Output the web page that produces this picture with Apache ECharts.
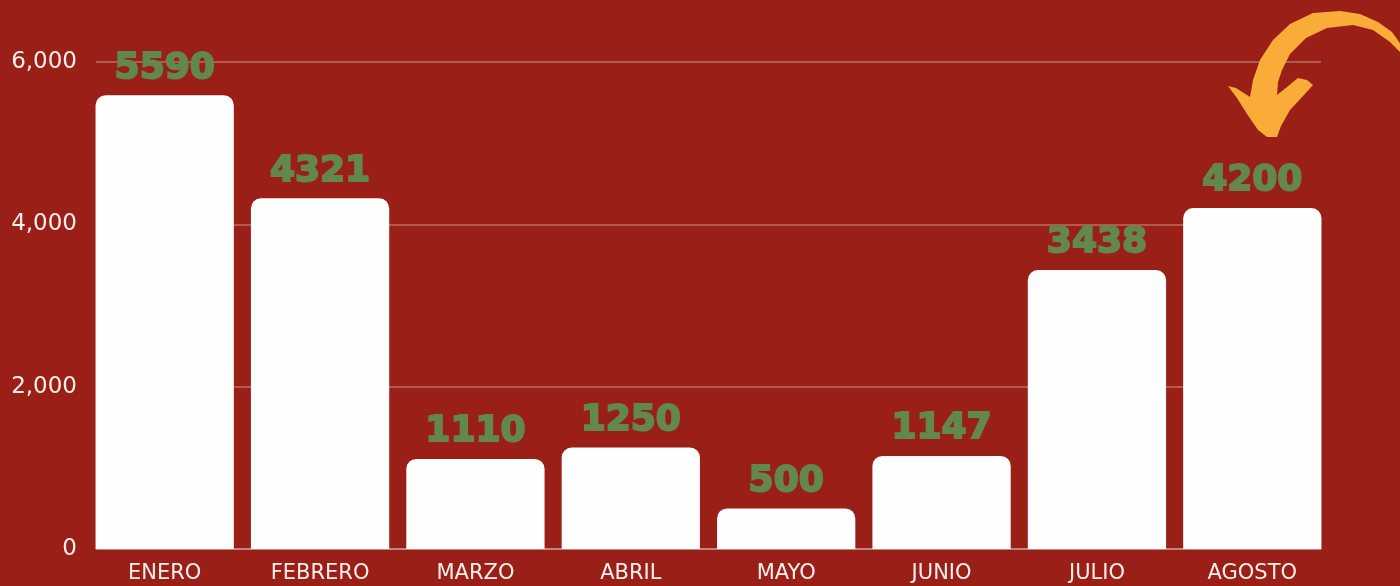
<!DOCTYPE html>
<html>
<head>
<meta charset="utf-8">
<script src="https://cdn.jsdelivr.net/npm/echarts@6/dist/echarts.min.js"></script>
<style>
  html, body { margin: 0; padding: 0; background: #9a1f16; }
  #chart { width: 1400px; height: 586px; }
</style>
</head>
<body>
<div id="chart"></div>
<script>
const months = ['ENERO', 'FEBRERO', 'MARZO', 'ABRIL', 'MAYO', 'JUNIO', 'JULIO', 'AGOSTO']
const sales = [5590, 4321, 1110, 1250, 500, 1147, 3438, 4200]
const yTicks = [0, 2000, 4000, 6000]

const bg = '#9a1f16'
const gridColor = 'rgba(255,255,255,0.35)'
const labelGreen = '#62884b'
const arrowColor = '#f9ac38'

// decorative curved arrow pointing at AGOSTO (outline)
const arrowOutline = [
  [1402, 46], [1392, 32], [1378, 22], [1360, 14], [1340, 11], [1313, 13], [1290, 24],
  [1273, 40], [1260, 60], [1253, 80], [1250, 97], [1236, 88], [1228, 86], [1237, 98],
  [1247, 114], [1258, 130], [1267, 137], [1277, 137], [1281, 126], [1290, 110], [1303, 96],
  [1313, 85], [1307, 80], [1298, 78], [1287, 87], [1277, 95], [1278, 82], [1282, 70],
  [1290, 54], [1306, 38], [1327, 28], [1353, 25], [1373, 30], [1390, 42], [1402, 54],
]

const chart = echarts.init(document.getElementById('chart'))

chart.setOption({
  backgroundColor: bg,
  animation: false,
  grid: [
    { left: 87, right: 70, top: 62, bottom: 37 },
    { left: 96, right: 79, top: 62, bottom: 37 },
  ],
  xAxis: [
    {
      type: 'category',
      gridIndex: 0,
      data: months,
      axisLine: { show: false },
      axisTick: { show: false },
      axisLabel: { color: '#fbeeee', fontSize: 21, fontFamily: 'DejaVu Sans', margin: 14 },
    },
    {
      type: 'category',
      gridIndex: 1,
      data: months,
      axisLine: { show: true, lineStyle: { color: gridColor, width: 1.5 } },
      axisTick: { show: false },
      axisLabel: { show: false },
    },
  ],
  yAxis: [
    {
      type: 'value',
      gridIndex: 0,
      min: 0,
      max: yTicks[yTicks.length - 1],
      interval: 2000,
      axisLabel: { show: false },
      splitLine: { show: false },
    },
    {
      type: 'value',
      gridIndex: 1,
      min: 0,
      max: yTicks[yTicks.length - 1],
      interval: 2000,
      axisLine: { show: false },
      axisTick: { show: false },
      axisLabel: {
        color: '#fbeeee',
        fontSize: 23,
        fontFamily: 'DejaVu Sans',
        margin: 19,
        formatter: (v) => v.toLocaleString('en-US'),
      },
      splitLine: { lineStyle: { color: gridColor, width: 1.5 } },
    },
  ],
  series: [
    {
      type: 'bar',
      xAxisIndex: 0,
      yAxisIndex: 0,
      data: sales,
      barCategoryGap: '11%',
      z: 5,
      itemStyle: { color: '#fefefe', borderRadius: [10, 10, 0, 0] },
      label: {
        show: true,
        position: 'top',
        distance: 9,
        color: labelGreen,
        fontSize: 36,
        fontWeight: 'bold',
        fontFamily: 'DejaVu Sans',
        textBorderColor: labelGreen,
        textBorderWidth: 2,
      },
    },
  ],
  graphic: [
    {
      type: 'polygon',
      z: 10,
      shape: { points: arrowOutline },
      style: { fill: arrowColor },
    },
  ],
})
</script>
</body>
</html>
